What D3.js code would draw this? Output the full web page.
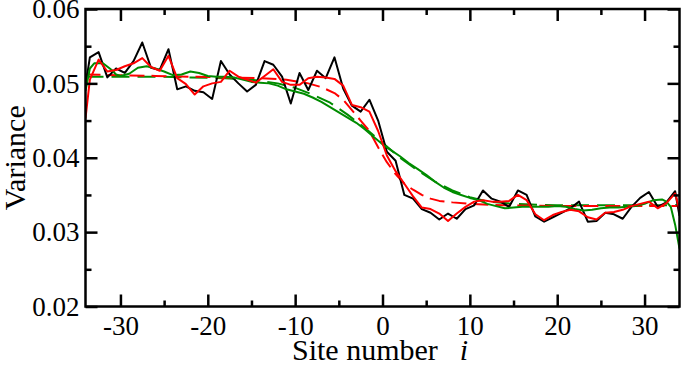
<!DOCTYPE html>
<html><head><meta charset="utf-8">
<script src="https://cdn.jsdelivr.net/npm/d3@7"></script>
<style>body{margin:0;background:#fff} svg{display:block} text{font-family:"Liberation Serif","DejaVu Serif",Times,serif;}</style>
</head><body><svg id="c" width="681" height="365"></svg>
<script>
// ---- data ----
const sites = [-34,-33.5,-32.5,-31.5,-30.5,-29.5,-28.5,-27.5,-26.5,-25.5,-24.5,-23.5,-22.5,-21.5,-20.5,-19.5,-18.5,-17.5,-16.5,-15.5,-14.5,-13.5,-12.5,-11.5,-10.5,-9.5,-8.5,-7.5,-6.5,-5.5,-4.5,-3.5,-2.5,-1.5,-0.5,0.5,1.5,2.5,3.5,4.5,5.5,6.5,7.5,8.5,9.5,10.5,11.5,12.5,13.5,14.5,15.5,16.5,17.5,18.5,19.5,20.5,21.5,22.5,23.5,24.5,25.5,26.5,27.5,28.5,29.5,30.5,31.5,32.5,33.5,34];
const blackVals = [0.0497,0.0535,0.0542,0.0508,0.0520,0.0514,0.0530,0.0555,0.0521,0.0518,0.0546,0.0492,0.0496,0.0490,0.0488,0.0479,0.0530,0.0512,0.0500,0.0489,0.0498,0.0530,0.0525,0.0509,0.0473,0.0514,0.0491,0.0517,0.0507,0.0535,0.0493,0.0470,0.0462,0.0478,0.0450,0.0408,0.0396,0.0350,0.0345,0.0331,0.0326,0.0317,0.0325,0.0318,0.0331,0.0336,0.0356,0.0345,0.0341,0.0334,0.0356,0.0350,0.0321,0.0314,0.0320,0.0326,0.0332,0.0341,0.0314,0.0315,0.0326,0.0324,0.0318,0.0334,0.0346,0.0354,0.0334,0.0340,0.0355,0.0322];
const redVals = [0.0453,0.0505,0.0532,0.0516,0.0518,0.0523,0.0527,0.0534,0.0522,0.0517,0.0537,0.0507,0.0499,0.0485,0.0496,0.0500,0.0502,0.0517,0.0509,0.0505,0.0501,0.0510,0.0519,0.0502,0.0498,0.0498,0.0507,0.0509,0.0508,0.0506,0.0497,0.0471,0.0468,0.0462,0.0436,0.0403,0.0382,0.0365,0.0348,0.0333,0.0331,0.0325,0.0315,0.0325,0.0334,0.0341,0.0343,0.0341,0.0341,0.0342,0.0350,0.0343,0.0324,0.0316,0.0323,0.0327,0.0330,0.0328,0.0320,0.0317,0.0326,0.0327,0.0330,0.0335,0.0338,0.0341,0.0332,0.0339,0.0352,0.0330];
const redDashSites = [-34,-30,-26,-22,-18,-14,-11,-8.5,-7,-5.5,-4.5,-3.5,-2.5,-1.5,-0.5,0.5,1.5,2.5,3.5,4.5,5.5,6.5,8,10,14,20,26,30,34];
const redDashVals = [0.0512,0.0511,0.0510,0.0509,0.0508,0.0507,0.0505,0.0500,0.0495,0.0487,0.0478,0.0464,0.0450,0.0436,0.0414,0.0394,0.0378,0.0365,0.0357,0.0350,0.0345,0.0342,0.0340,0.0338,0.0336,0.0335,0.0335,0.0335,0.0335];
const greenSites = [-34,-33.5,-33,-32,-31,-30.5,-30,-29,-28,-27,-26,-25,-24,-23,-22,-21,-20,-19,-18,-17,-16,-15,-14,-13,-12,-11,-10,-9,-8,-7,-6,-5,-4,-3,-2,-1,0,1,2,3,4,5,6,7,8,9,10,11,12,13,14,15,16,17,18,19,20,21,22,23,24,25,26,27,28,29,30,31,32,32.5,33,33.5,34];
const greenVals = [0.0490,0.0520,0.0527,0.0527,0.0518,0.0512,0.0510,0.0513,0.0521,0.0523,0.0520,0.0516,0.0511,0.0512,0.0516,0.0514,0.0510,0.0509,0.0509,0.0508,0.0505,0.0502,0.0501,0.0500,0.0497,0.0492,0.0489,0.0486,0.0481,0.0475,0.0468,0.0461,0.0454,0.0447,0.0438,0.0428,0.0418,0.0410,0.0402,0.0393,0.0385,0.0377,0.0368,0.0360,0.0354,0.0350,0.0346,0.0343,0.0338,0.0335,0.0332,0.0333,0.0334,0.0334,0.0334,0.0334,0.0335,0.0334,0.0331,0.0329,0.0330,0.0332,0.0333,0.0333,0.0334,0.0335,0.0338,0.0343,0.0344,0.0341,0.0334,0.0310,0.0278];
const greenDashSites = [-34,-30,-26,-22,-18,-15,-12,-10,-8,-6,-4,-2,0,2,4,6,8,10,12,15,20,26,30,34];
const greenDashVals = [0.0509,0.0509,0.0509,0.0508,0.0507,0.0505,0.0500,0.0494,0.0485,0.0474,0.0458,0.0440,0.0420,0.0400,0.0383,0.0368,0.0356,0.0347,0.0341,0.0338,0.0336,0.0336,0.0336,0.0336];
const xTicks = [-30,-20,-10,0,10,20,30];
const xMinor = [-25,-15,-5,5,15,25];
const yTicks = [0.02,0.03,0.04,0.05,0.06];
const yMinor = [0.025,0.035,0.045,0.055];

// ---- chart ----
const svg = d3.select("#c");
const L = 85.5, R = 679.5, T = 9, B = 306.5;
const x = d3.scaleLinear().domain([-34,34]).range([L,R]);
const y = d3.scaleLinear().domain([0.02,0.06]).range([B,T]);
const green = "#008c00";

svg.append("defs").append("clipPath").attr("id","clip")
  .append("rect").attr("x",L).attr("y",T).attr("width",R-L).attr("height",B-T);

const line = d3.line().x(d=>x(d[0])).y(d=>y(d[1]));
const g = svg.append("g").attr("clip-path","url(#clip)");
function draw(xs, vs, color, dash){
  g.append("path").datum(xs.map((s,i)=>[s,vs[i]]))
    .attr("d", line).attr("fill","none").attr("stroke",color)
    .attr("stroke-width",2).attr("stroke-linejoin","round")
    .attr("stroke-dasharray", dash || null);
}
draw(greenDashSites, greenDashVals, green, "18,8");
draw(redDashSites, redDashVals, "#ff0000", "15,7");
draw(sites, blackVals, "#000000");
draw(greenSites, greenVals, green);
draw(sites, redVals, "#ff0000");

function styleAxis(sel){
  sel.select(".domain").remove();
  sel.attr("font-family", null).attr("font-size", null);
  sel.selectAll("line").attr("stroke","#000").attr("stroke-width",2.5);
  sel.selectAll("text").style("font-size","27px").attr("fill","#000");
}
svg.append("g").attr("transform",`translate(0,${B})`)
  .call(d3.axisBottom(x).tickValues(xTicks).tickSize(-12).tickPadding(9).tickFormat(d=>String(d))).call(styleAxis);
svg.append("g").attr("transform",`translate(0,${B})`)
  .call(d3.axisBottom(x).tickValues(xMinor).tickSize(-6).tickFormat("")).call(styleAxis);
svg.append("g").attr("transform",`translate(0,${T})`)
  .call(d3.axisTop(x).tickValues(xTicks).tickSize(-12).tickFormat("")).call(styleAxis);
svg.append("g").attr("transform",`translate(0,${T})`)
  .call(d3.axisTop(x).tickValues(xMinor).tickSize(-6).tickFormat("")).call(styleAxis);
svg.append("g").attr("transform",`translate(${L},0)`)
  .call(d3.axisLeft(y).tickValues(yTicks).tickSize(-12).tickPadding(6).tickFormat(d3.format(".2f"))).call(styleAxis);
svg.append("g").attr("transform",`translate(${L},0)`)
  .call(d3.axisLeft(y).tickValues(yMinor).tickSize(-6).tickFormat("")).call(styleAxis);
svg.append("g").attr("transform",`translate(${R},0)`)
  .call(d3.axisRight(y).tickValues(yTicks).tickSize(-12).tickFormat("")).call(styleAxis);
svg.append("g").attr("transform",`translate(${R},0)`)
  .call(d3.axisRight(y).tickValues(yMinor).tickSize(-6).tickFormat("")).call(styleAxis);

svg.append("rect").attr("x",L).attr("y",T).attr("width",R-L).attr("height",B-T)
  .attr("fill","none").attr("stroke","#000").attr("stroke-width",2.5);

svg.append("text").attr("transform",`translate(25,${(T+B)/2}) rotate(-90)`)
  .attr("text-anchor","middle").style("font-size","30px").text("Variance");
const xt = svg.append("text").attr("x",292).attr("y",360).style("font-size","30px");
xt.append("tspan").text("Site number");
xt.append("tspan").attr("dx",22).style("font-style","italic").text("i");
</script></body></html>
